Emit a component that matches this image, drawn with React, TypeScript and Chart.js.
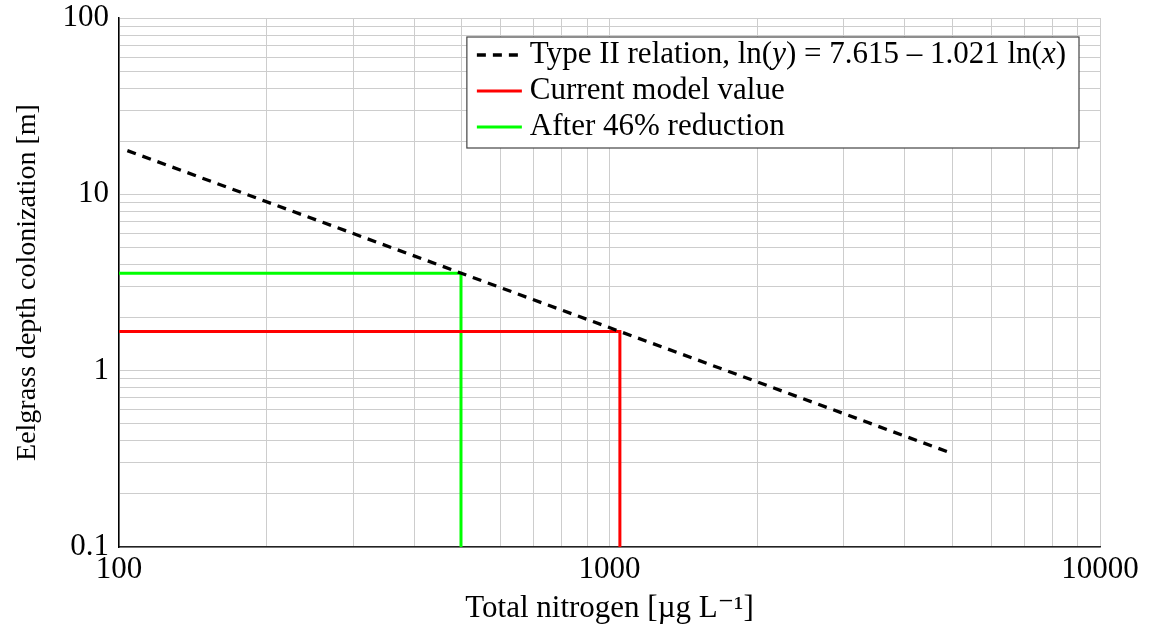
import React, { useEffect, useRef } from 'react';
import { Chart, registerables } from 'chart.js';

Chart.register(...registerables);

// ---- tick values / labels ----
const xTickValues = [100, 200, 300, 400, 500, 600, 700, 800, 900, 1000, 2000, 3000, 4000, 5000, 6000, 7000, 8000, 9000, 10000];
const yTickValues = [0.1, 0.2, 0.3, 0.4, 0.5, 0.6, 0.7, 0.8, 0.9, 1, 2, 3, 4, 5, 6, 7, 8, 9, 10, 20, 30, 40, 50, 60, 70, 80, 90, 100];
const xLabelValues = [100, 1000, 10000];
const yLabelValues = [0.1, 1, 10, 100];

// ---- series ----
const typeIIX = [104, 5000];
const typeIIY = [17.7, 0.339];
const currentX = [100, 1050, 1050];
const currentY = [1.67, 1.67, 0.1];
const reducedX = [100, 498, 498];
const reducedY = [3.57, 3.57, 0.1];

const seriesLabels = ['Type II relation, ln(y) = 7.615 – 1.021 ln(x)', 'Current model value', 'After 46% reduction'];
// legend text split into upright / italic runs
const legendRuns: { t: string; i: boolean }[][] = [
  [
    { t: 'Type II relation, ln(', i: false },
    { t: 'y', i: true },
    { t: ') = 7.615 – 1.021 ln(', i: false },
    { t: 'x', i: true },
    { t: ')', i: false },
  ],
  [{ t: 'Current model value', i: false }],
  [{ t: 'After 46% reduction', i: false }],
];

const xTitle = 'Total nitrogen [µg L⁻¹]';
const yTitle = 'Eelgrass depth colonization [m]';

const FONT = '"Liberation Serif", "DejaVu Serif", serif';
const FS = 31;
const LFS = 31;

const toPts = (xs: number[], ys: number[]) => xs.map((x, i) => ({ x, y: ys[i] }));

const boxLegend = {
  id: 'boxLegend',
  afterDatasetsDraw(chart: any) {
    const { ctx, chartArea } = chart;
    const ds = chart.data.datasets;
    ctx.save();
    const up = `${LFS}px ${FONT}`;
    const it = `italic ${LFS}px ${FONT}`;
    const widths = legendRuns.map((runs) =>
      runs.reduce((s, r) => {
        ctx.font = r.i ? it : up;
        return s + ctx.measureText(r.t).width;
      }, 0)
    );
    const maxW = Math.max(...widths);
    const padL = 10;
    const sample = 45;
    const gap = 8;
    const padR = 13;
    const rowH = 36;
    const padT = 18;
    const padB = 21;
    const w = padL + sample + gap + maxW + padR;
    const h = padT + padB + rowH * (legendRuns.length - 1);
    const right = chartArea.right - 21;
    const left = right - w;
    const top = chartArea.top + 19;
    ctx.fillStyle = '#ffffff';
    ctx.fillRect(left, top, w, h);
    ctx.strokeStyle = '#444444';
    ctx.lineWidth = 1.2;
    ctx.strokeRect(left, top, w, h);
    legendRuns.forEach((runs, k) => {
      const y = top + padT + k * rowH;
      const d = ds[k];
      ctx.beginPath();
      ctx.strokeStyle = d.borderColor;
      ctx.lineWidth = d.borderWidth;
      ctx.setLineDash(d.borderDash || []);
      ctx.moveTo(left + padL, y);
      ctx.lineTo(left + padL + sample, y);
      ctx.stroke();
      ctx.setLineDash([]);
      let x = left + padL + sample + gap;
      ctx.fillStyle = '#000';
      ctx.textBaseline = 'middle';
      ctx.textAlign = 'left';
      runs.forEach((r) => {
        ctx.font = r.i ? it : up;
        ctx.fillText(r.t, x, y);
        x += ctx.measureText(r.t).width;
      });
    });
    ctx.restore();
  },
};

export default function App() {
  const ref = useRef<HTMLCanvasElement>(null);
  useEffect(() => {
    if (!ref.current) return;
    const gridColor = 'rgb(205,205,205)';
    const chart = new Chart(ref.current, {
      type: 'line',
      data: {
        datasets: [
          {
            label: seriesLabels[0],
            data: toPts(typeIIX, typeIIY),
            borderColor: '#000000',
            borderWidth: 3.3,
            borderDash: [9, 7],
            pointRadius: 0,
            tension: 0,
            fill: false,
          },
          {
            label: seriesLabels[1],
            data: toPts(currentX, currentY),
            borderColor: 'rgb(255,0,0)',
            borderWidth: 3,
            pointRadius: 0,
            tension: 0,
            fill: false,
          },
          {
            label: seriesLabels[2],
            data: toPts(reducedX, reducedY),
            borderColor: 'rgb(0,255,0)',
            borderWidth: 3,
            pointRadius: 0,
            tension: 0,
            fill: false,
          },
        ],
      },
      options: {
        animation: false,
        responsive: true,
        maintainAspectRatio: false,
        layout: { padding: { top: 18, right: 50, left: 0, bottom: 0 } },
        plugins: { legend: { display: false }, tooltip: { enabled: false } },
        scales: {
          x: {
            type: 'logarithmic',
            min: 100,
            max: 10000,
            afterBuildTicks: (s: any) => {
              s.ticks = xTickValues.map((v) => ({ value: v }));
            },
            afterFit: (s: any) => {
              s.height = 88;
              s.paddingLeft = 0;
              s.paddingRight = 0;
            },
            ticks: {
              autoSkip: false,
              maxRotation: 0,
              padding: 4,
              color: '#000',
              font: { family: FONT, size: FS },
              callback: (v: any) => (xLabelValues.includes(Number(v)) ? String(v) : ''),
            },
            grid: { color: gridColor, lineWidth: 1, drawTicks: false },
            border: { color: '#222', width: 1.5 },
            title: {
              display: true,
              text: xTitle,
              color: '#000',
              font: { family: FONT, size: FS },
              padding: { top: 0, bottom: 8 },
            },
          },
          y: {
            type: 'logarithmic',
            min: 0.1,
            max: 100,
            afterBuildTicks: (s: any) => {
              s.ticks = yTickValues.map((v) => ({ value: v }));
            },
            afterFit: (s: any) => {
              s.width = 119;
              s.paddingTop = 0;
              s.paddingBottom = 0;
            },
            ticks: {
              autoSkip: false,
              padding: 10,
              color: '#000',
              font: { family: FONT, size: FS },
              callback: (v: any) => (yLabelValues.includes(Number(v)) ? String(v) : ''),
            },
            grid: { color: gridColor, lineWidth: 1, drawTicks: false },
            border: { color: '#000', width: 1.5 },
            title: {
              display: true,
              text: yTitle,
              color: '#000',
              font: { family: FONT, size: 28 },
              padding: { top: 11, bottom: 0 },
            },
          },
        },
      },
      plugins: [boxLegend],
    } as any);
    return () => chart.destroy();
  }, []);
  return (
    <div style={{ position: 'fixed', left: 0, top: 0, width: 1150, height: 635, background: '#fff' }}>
      <canvas ref={ref} />
    </div>
  );
}
